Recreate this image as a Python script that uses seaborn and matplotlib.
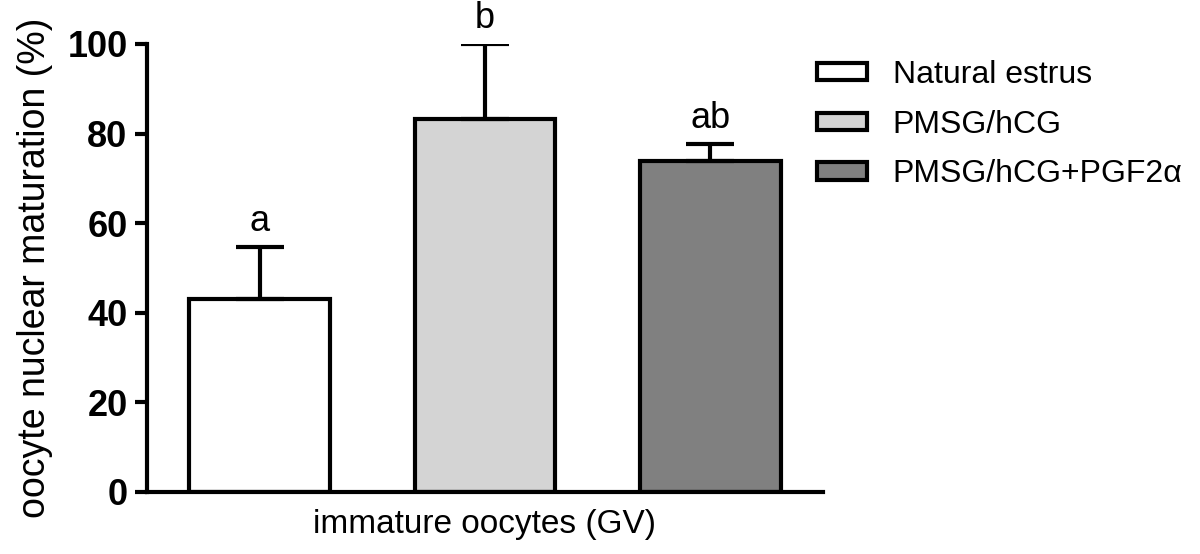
import numpy as np
import matplotlib
matplotlib.use('Agg')
import matplotlib.pyplot as plt
import seaborn as sns

# data
groups = ['Natural estrus', 'PMSG/hCG', 'PMSG/hCG+PGF2α']
means = [43.0, 83.3, 73.8]
sems = [11.6, 16.6, 3.8]
letters = ['a', 'b', 'ab']
colors = ['#ffffff', '#d4d4d4', '#808080']

sns.set_theme(style='ticks')
plt.rcParams['font.family'] = ['Liberation Sans', 'DejaVu Sans']
plt.rcParams['axes.linewidth'] = 3
plt.rcParams['text.color'] = 'black'
plt.rcParams['axes.labelcolor'] = 'black'
plt.rcParams['xtick.color'] = 'black'
plt.rcParams['ytick.color'] = 'black'
plt.rcParams['axes.edgecolor'] = 'black'

fig = plt.figure(figsize=(12, 5.54), dpi=100)
ax = fig.add_axes([0.1225, 0.112, 0.5633, 0.8086])

sns.barplot(x=groups, y=means, hue=groups, palette=colors, width=0.624,
            edgecolor='black', linewidth=3, ax=ax, legend=False, saturation=1)

pos = np.arange(len(groups))
ax.errorbar(pos, means, yerr=[np.zeros(len(sems)), sems], fmt='none',
            ecolor='black', elinewidth=3, capsize=17, capthick=3, zorder=1)

for p, m, s, t in zip(pos, means, sems, letters):
    ax.annotate(t, (p, m + s), xytext=(0, 6), textcoords='offset points',
                ha='center', va='bottom', fontsize=26)

ax.set_xlim(-0.5, 2.5)
ax.set_ylim(0, 100)
ax.set_yticks([0, 20, 40, 60, 80, 100])
ax.set_xticks([])
ax.tick_params(axis='y', length=9, width=3, labelsize=26, pad=5)
for lab in ax.get_yticklabels():
    lab.set_fontweight('bold')
ax.set_ylabel('oocyte nuclear maturation (%)', fontsize=27, labelpad=10)
ax.set_xlabel('immature oocytes (GV)', fontsize=24, labelpad=12)
sns.despine(ax=ax)

handles = [plt.Rectangle((0, 0), 1, 1, facecolor=c, edgecolor='black', linewidth=3)
           for c in colors]
fig.legend(handles, groups, loc='upper left', bbox_to_anchor=(0.681, 0.892),
           frameon=False, fontsize=23, handlelength=1.56, handleheight=0.45,
           handletextpad=0.8, labelspacing=0.62, borderpad=0, borderaxespad=0)

fig.savefig('out.png', dpi=100)
